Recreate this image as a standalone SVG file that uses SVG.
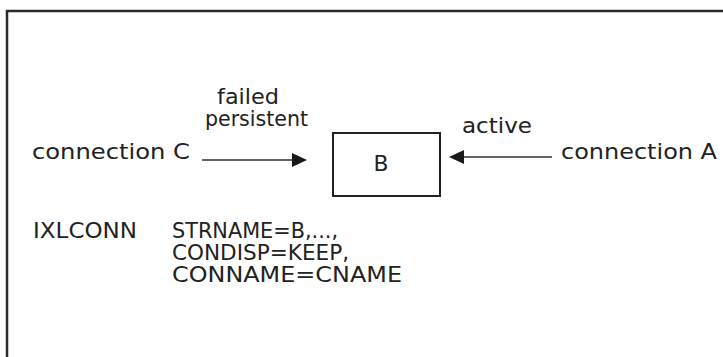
<svg xmlns="http://www.w3.org/2000/svg" width="723" height="357" viewBox="0 0 723 357">
<style>
text{font-family:"DejaVu Sans","Liberation Sans",sans-serif;font-size:21px;fill:#222;}
.conn line{stroke:#333;stroke-width:1.5;}
.conn polygon{fill:#1a1a1a;}
</style>
<rect width="723" height="357" fill="#fff"/>
<g id="frame">
<rect x="7" y="11" width="730" height="360" fill="none" stroke="#2a2a2a" stroke-width="2.5"/>
</g>
<g id="nodeB">
<rect x="333" y="133" width="107" height="63" fill="#fff" stroke="#222" stroke-width="2"/>
<text x="381" y="171" text-anchor="middle" textLength="15" lengthAdjust="spacingAndGlyphs">B</text>
</g>
<g id="connectionC">
<text x="32" y="159" textLength="158" lengthAdjust="spacingAndGlyphs">connection C</text>
</g>
<g id="connectionA">
<text x="561" y="159" textLength="156" lengthAdjust="spacingAndGlyphs">connection A</text>
</g>
<g class="conn" id="connectors">
<line x1="202" y1="160" x2="293" y2="160"/>
<polygon points="292,153 307,160 292,167"/>
<line x1="552" y1="157" x2="463" y2="157"/>
<polygon points="464,150 449,157 464,164"/>
</g>
<g id="labels">
<text x="217" y="103.5" textLength="62" lengthAdjust="spacingAndGlyphs">failed</text>
<text x="205" y="126" textLength="103" lengthAdjust="spacingAndGlyphs">persistent</text>
<text x="462" y="133" textLength="70" lengthAdjust="spacingAndGlyphs">active</text>
</g>
<g id="macro">
<text x="33" y="238" textLength="104" lengthAdjust="spacingAndGlyphs">IXLCONN</text>
<text x="172" y="238" textLength="166" lengthAdjust="spacingAndGlyphs">STRNAME=B,...,</text>
<text x="172" y="260" textLength="177" lengthAdjust="spacingAndGlyphs">CONDISP=KEEP,</text>
<text x="172" y="282" textLength="230" lengthAdjust="spacingAndGlyphs">CONNAME=CNAME</text>
</g>
</svg>
